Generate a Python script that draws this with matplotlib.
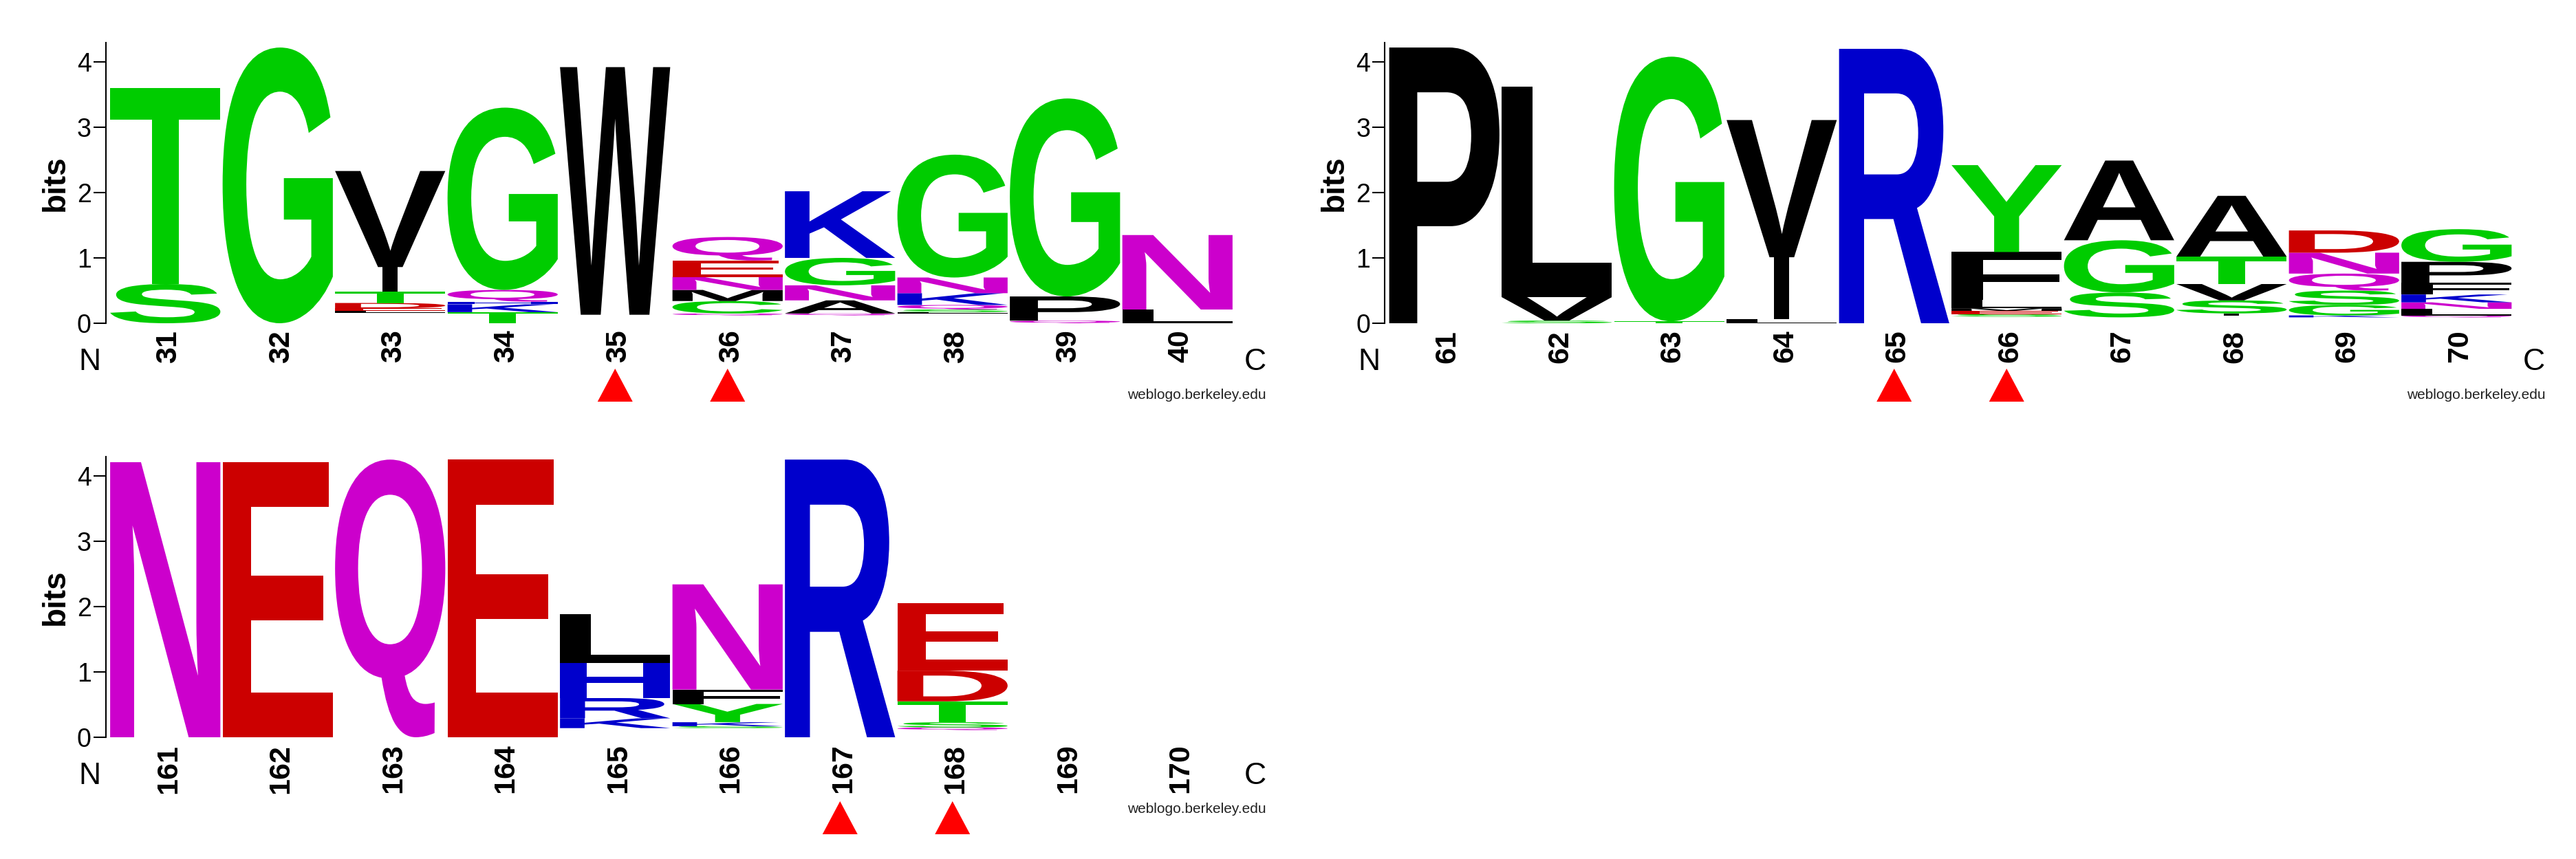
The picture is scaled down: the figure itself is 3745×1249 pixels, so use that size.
import numpy as np
import matplotlib
matplotlib.use('Agg')
import matplotlib.pyplot as plt
from matplotlib.textpath import TextPath
from matplotlib.patches import PathPatch, Polygon
from matplotlib.font_manager import FontProperties
from matplotlib.transforms import Affine2D, blended_transform_factory

plt.rcParams['font.family'] = ['Liberation Sans', 'DejaVu Sans']

# Stacks are listed bottom -> top as (residue, bits).
# '.' = residues too small to be drawn (only lifts the stack).
pos_a = list(range(31, 41))
stacks_a = [
    [('S', 0.60), ('T', 3.00)],
    [('G', 4.22)],
    [('.', 0.16), ('L', 0.03), ('E', 0.04), ('D', 0.08), ('T', 0.17), ('I', 0.38), ('V', 1.47)],
    [('T', 0.17), ('K', 0.12), ('H', 0.04), ('Q', 0.18), ('G', 2.79)],
    [('.', 0.13), ('W', 3.79)],
    [('.', 0.12), ('Q', 0.03), ('C', 0.19), ('M', 0.17), ('N', 0.20), ('E', 0.25), ('Q', 0.36)],
    [('.', 0.12), ('Q', 0.03), ('A', 0.20), ('N', 0.23), ('G', 0.42), ('K', 1.02)],
    [('.', 0.15), ('L', 0.02), ('S', 0.04), ('Q', 0.07), ('K', 0.18), ('N', 0.24), ('G', 1.88)],
    [('Q', 0.04), ('P', 0.37), ('G', 3.03)],
    [('L', 0.21), ('N', 1.14)],
]
marks_a = [35, 36]

pos_b = list(range(61, 71))
stacks_b = [
    [('P', 4.22)],
    [('S', 0.04), ('V', 0.36), ('L', 3.22)],
    [('T', 0.03), ('G', 4.05)],
    [('L', 0.06), ('I', 0.95), ('V', 2.10)],
    [('R', 4.20)],
    [('.', 0.10), ('S', 0.04), ('E', 0.05), ('M', 0.04), ('L', 0.13), ('F', 0.73), ('Y', 1.33)],
    [('.', 0.09), ('S', 0.38), ('G', 0.80), ('A', 1.22)],
    [('.', 0.12), ('I', 0.03), ('S', 0.20), ('V', 0.25), ('T', 0.42), ('A', 0.93)],
    [('.', 0.09), ('K', 0.03), ('G', 0.16), ('S', 0.22), ('Q', 0.26), ('N', 0.32), ('D', 0.34)],
    [('.', 0.09), ('Q', 0.03), ('L', 0.10), ('N', 0.10), ('K', 0.12), ('F', 0.18), ('P', 0.32), ('G', 0.50)],
]
marks_b = [65, 66]

pos_c = list(range(161, 171))
stacks_c = [
    [('N', 4.21)],
    [('E', 4.21)],
    [('Q', 4.25)],
    [('E', 4.25)],
    [('.', 0.14), ('K', 0.15), ('R', 0.31), ('H', 0.54), ('L', 0.74)],
    [('.', 0.14), ('S', 0.03), ('K', 0.06), ('Y', 0.28), ('F', 0.22), ('N', 1.61)],
    [('R', 4.25)],
    [('.', 0.11), ('Q', 0.04), ('S', 0.08), ('T', 0.32), ('D', 0.47), ('E', 1.03)],
    [],
    [],
]
marks_c = [167, 168]

# weblogo "chemistry" colours
colors = {}
for c in 'GSTYC':
    colors[c] = '#00CC00'
for c in 'NQ':
    colors[c] = '#CC00CC'
for c in 'KRH':
    colors[c] = '#0000CC'
for c in 'DE':
    colors[c] = '#CC0000'

fp = FontProperties(family='Liberation Sans', weight='bold')


def draw_letter(ax, ch, x, y, w, h):
    tp = TextPath((0, 0), ch, size=1, prop=fp)
    bb = tp.get_extents()
    if ch == 'I':
        x = x + w * 0.43
        w = w * 0.14
    tr = Affine2D().translate(-bb.x0, -bb.y0).scale(w / bb.width, h / bb.height).translate(x, y)
    ax.add_patch(PathPatch(tr.transform_path(tp), lw=0, fc=colors.get(ch, 'black'), ec='none'))


W, H = 3745, 1249
fig = plt.figure(figsize=(W / 100, H / 100), dpi=100)

col_px = 163.5
bit_px = 95
ytop = 4.29
xleft = 0.47


def logo(x0_px, y0_px, positions, stacks, marks, mark_drop):
    left = x0_px - (0.5 - xleft) * col_px
    width = (10.5 - xleft) * col_px
    height = ytop * bit_px
    ax = fig.add_axes([left / W, 1 - y0_px / H, width / W, height / H])
    ax.set_xlim(xleft, 10.5)
    ax.set_ylim(0, ytop)
    for sp in ['top', 'right', 'bottom']:
        ax.spines[sp].set_visible(False)
    ax.spines['left'].set_linewidth(1.5)

    for i, stack in enumerate(stacks):
        y = 0
        for ch, h in stack:
            if ch != '.':
                draw_letter(ax, ch, i + 1 - 0.49, y, 0.98, h)
            y += h

    ax.set_yticks(range(5))
    ax.tick_params(axis='y', length=13, width=1.5, labelsize=27, pad=2)
    ax.set_xticks(np.arange(1, 11) + 0.03)
    ax.set_xticklabels([str(p) for p in positions], rotation=90, fontsize=31, fontweight='bold')
    ax.tick_params(axis='x', length=0, pad=7)

    ax.text(-73 / width, 0.5, 'bits', transform=ax.transAxes, rotation=90,
            ha='center', va='center', fontsize=33, fontweight='bold')

    tb = blended_transform_factory(ax.transData, ax.transAxes)
    ax.text(0.33, -56 / height, 'N', transform=tb, ha='center', va='center', fontsize=32)
    ax.text(10.69, -56 / height, 'C', transform=tb, ha='center', va='center', fontsize=32)
    ax.text(10.79, -104 / height, 'weblogo.berkeley.edu', transform=tb,
            ha='right', va='center', fontsize=15, color='#222222')

    for m in marks:
        c = positions.index(m) + 1
        yt = -mark_drop / height
        yb = -(mark_drop + 48) / height
        tri = Polygon([(c - 0.156, yb), (c + 0.156, yb), (c, yt)], closed=True,
                      transform=tb, fc='#FF0000', ec='none', clip_on=False)
        ax.add_patch(tri)
    return ax


logo(158.5, 470, pos_a, stacks_a, marks_a, 66)
logo(2018, 470, pos_b, stacks_b, marks_b, 66)
logo(158.5, 1072, pos_c, stacks_c, marks_c, 93)

fig.savefig('out.png', dpi=100)
